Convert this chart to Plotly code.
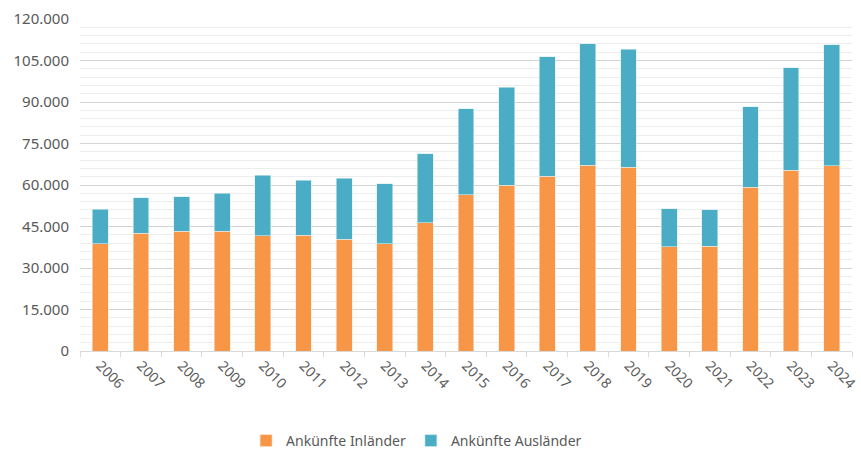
import plotly.graph_objects as go

years = [str(y) for y in range(2006, 2025)]
inlaender = [38700, 42600, 43300, 43300, 41700, 41800, 40400, 38700, 46300, 56500,
             59900, 63100, 67100, 66500, 37600, 37900, 59200, 65400, 67000]
gesamt = [51200, 55400, 55800, 57100, 63500, 61800, 62500, 60400, 71300, 87600,
          95400, 106400, 111000, 109000, 51400, 51100, 88200, 102400, 110700]
auslaender = [g - i for g, i in zip(gesamt, inlaender)]

ytick_vals = list(range(0, 120001, 15000))

font_family = "Noto Sans"
txt_color = "#595959"

fig = go.Figure()
fig.add_trace(go.Bar(x=years, y=inlaender, name="Ankünfte Inländer",
                     marker=dict(color="#F79646", line=dict(color="#fde6d4", width=0.6))))
fig.add_trace(go.Bar(x=years, y=auslaender, name="Ankünfte Ausländer",
                     marker=dict(color="#4BACC6", line=dict(color="#d6eef4", width=0.6))))

fig.update_layout(
    barmode="stack",
    bargap=0.61,
    width=861, height=449,
    margin=dict(l=80, r=9, t=19, b=98, autoexpand=False),
    paper_bgcolor="white", plot_bgcolor="white",
    separators=",.",
    font=dict(family=font_family, size=13, color=txt_color),
    showlegend=True,
    legend=dict(orientation="h", x=0.436, xanchor="center", y=-0.271, yanchor="middle",
                font=dict(size=14, color=txt_color), traceorder="normal",
                itemwidth=30, tracegroupgap=0),
    xaxis=dict(tickangle=45, showline=True, linecolor="#d9d9d9", linewidth=1,
               ticks="outside", tickson="boundaries", ticklen=5, tickcolor="#d9d9d9",
               tickfont=dict(size=14, color=txt_color), showgrid=False, automargin=False),
    yaxis=dict(range=[0, 120000], tickvals=ytick_vals, tickformat=",d",
               showgrid=True, gridcolor="#d4d4d4", gridwidth=1,
               zeroline=False, showline=False, automargin=False,
               ticklabelstandoff=10,
               tickfont=dict(size=15, color=txt_color), ticks="",
               minor=dict(dtick=3000, showgrid=True, gridcolor="#ededed", gridwidth=1)),
)

fig.write_html("out.html")
